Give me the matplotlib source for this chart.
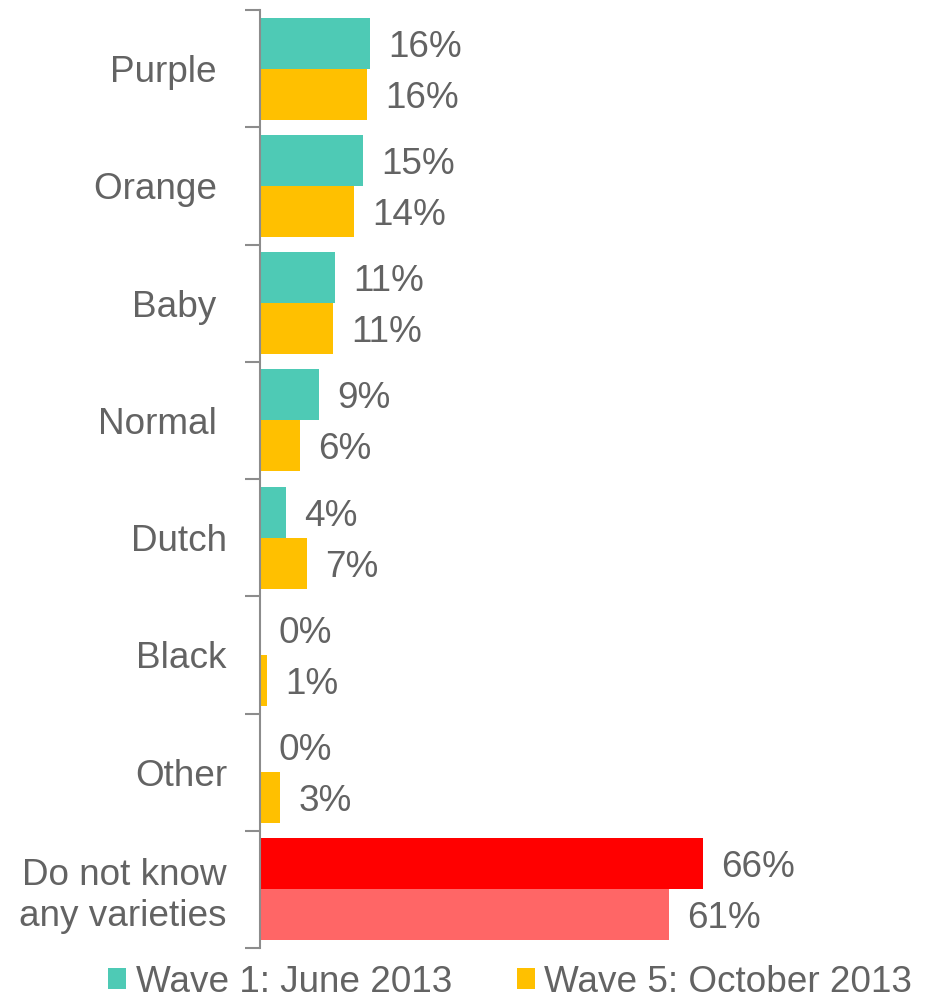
import matplotlib
matplotlib.use("Agg")
import matplotlib.pyplot as plt
import numpy as np

categories = ["Purple ", "Orange ", "Baby ", "Normal ", "Dutch", "Black", "Other", "Do not know\nany varieties"]
wave1 = [16.4, 15.4, 11.2, 8.8, 3.9, 0.0, 0.0, 66.1]
wave5 = [16.0, 14.0, 10.9, 6.0, 7.0, 1.0, 3.0, 61.0]
wave1_labels = ["16%", "15%", "11%", "9%", "4%", "0%", "0%", "66%"]
wave5_labels = ["16%", "14%", "11%", "6%", "7%", "1%", "3%", "61%"]
series_names = ["Wave 1: June 2013", "Wave 5: October 2013"]

TEAL = "#4ECAB5"
GOLD = "#FFC000"
RED = "#FF0000"
PINK = "#FF6666"
TXT = "#636363"
SPINE = "#8C8C8C"

plt.rcParams['font.family'] = ['Liberation Sans', 'DejaVu Sans']
FS = 26.6

W, H = 933, 1002
fig = plt.figure(figsize=(W / 100, H / 100), dpi=100)
ax = fig.add_axes([260 / W, 1 - 948 / H, 1 - 260 / W, (948 - 10) / H])

n = len(categories)
y = np.arange(n)
h = 0.435
c1 = [TEAL] * (n - 1) + [RED]
c5 = [GOLD] * (n - 1) + [PINK]
b1 = ax.barh(y - h / 2, wave1, height=h, color=c1, label=series_names[0])
b5 = ax.barh(y + h / 2, wave5, height=h, color=c5, label=series_names[1])

for yy, v, lab in zip(y - h / 2, wave1, wave1_labels):
    ax.annotate(lab, (v, yy), xytext=(13, 0), textcoords="offset points",
                va="center_baseline", ha="left", fontsize=FS, color=TXT)
for yy, v, lab in zip(y + h / 2, wave5, wave5_labels):
    ax.annotate(lab, (v, yy), xytext=(13, 0), textcoords="offset points",
                va="center_baseline", ha="left", fontsize=FS, color=TXT)

ax.set_xlim(0, 673 / 6.7)
ax.set_ylim(n - 0.5, -0.5)
ax.set_yticks(y)
ax.set_yticklabels(categories, fontsize=FS, color=TXT)
for t in ax.get_yticklabels()[:-1]:
    t.set_va("center_baseline")
ax.tick_params(axis="y", which="major", length=0, pad=23.8)
ax.set_yticks(np.arange(n + 1) - 0.5, minor=True)
ax.tick_params(axis="y", which="minor", length=11, width=1.5, color=SPINE)
ax.set_xticks([])
for s in ["top", "right", "bottom"]:
    ax.spines[s].set_visible(False)
ax.spines["left"].set_color(SPINE)
ax.spines["left"].set_linewidth(1.5)

fig.legend(handles=[b1, b5], labels=series_names, loc="center left",
           bbox_to_anchor=(108 / W, 1 - 982 / H), ncol=2, frameon=False,
           fontsize=FS, labelcolor=TXT, handlelength=0.5, handleheight=0.5,
           handletextpad=0.25, columnspacing=1.75, borderpad=0, borderaxespad=0)

fig.savefig("out.png", dpi=100)
